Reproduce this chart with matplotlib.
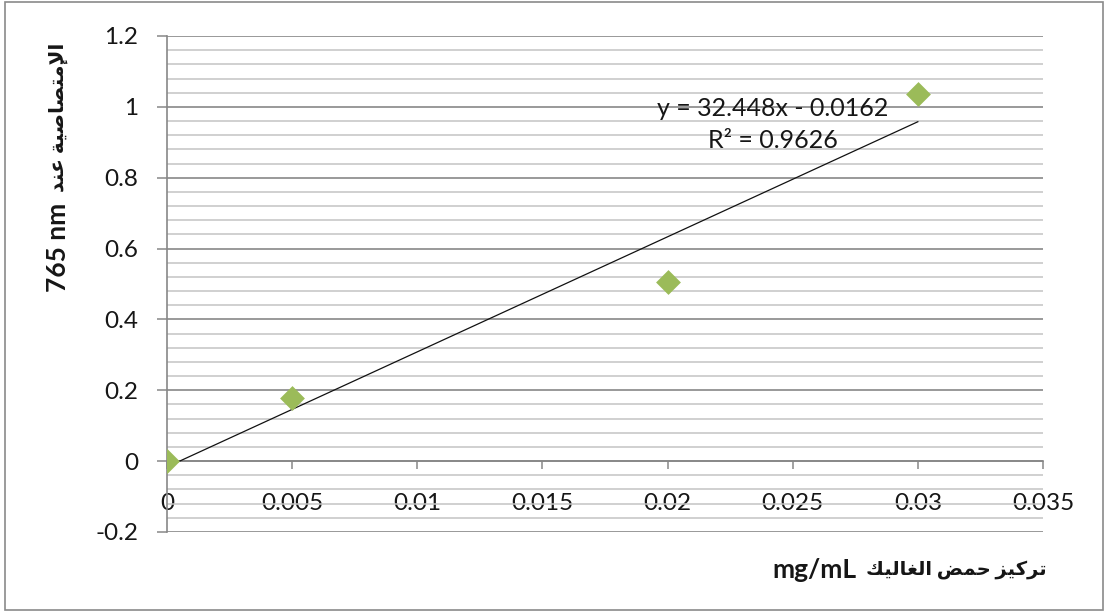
import numpy as np
import matplotlib
matplotlib.use("Agg")
import matplotlib.pyplot as plt
from matplotlib.patches import Rectangle
from matplotlib.ticker import MultipleLocator, FuncFormatter

# gallic acid calibration
conc = [0.0, 0.005, 0.02, 0.03]          # mg/mL
absorb = [0.0, 0.177, 0.507, 1.037]      # absorbance at 765 nm
eq_text = "y = 32.448x - 0.0162\nR² = 0.9626"

ylabel_ar = "الإمتصاصية عند"
ylabel_lat = "765 nm"
xlabel_ar = "تركيز حمض الغاليك"
xlabel_lat = "mg/mL"

# --- minimal arabic shaping (matplotlib has no bidi / joining) ---
AR_FORMS = {
    "ا": ("\uFE8D", "\uFE8E", None, None),
    "إ": ("\uFE87", "\uFE88", None, None),
    "ة": ("\uFE93", "\uFE94", None, None),
    "ت": ("\uFE95", "\uFE96", "\uFE97", "\uFE98"),
    "ح": ("\uFEA1", "\uFEA2", "\uFEA3", "\uFEA4"),
    "د": ("\uFEA9", "\uFEAA", None, None),
    "ر": ("\uFEAD", "\uFEAE", None, None),
    "ز": ("\uFEAF", "\uFEB0", None, None),
    "ص": ("\uFEB9", "\uFEBA", "\uFEBB", "\uFEBC"),
    "ض": ("\uFEBD", "\uFEBE", "\uFEBF", "\uFEC0"),
    "ع": ("\uFEC9", "\uFECA", "\uFECB", "\uFECC"),
    "غ": ("\uFECD", "\uFECE", "\uFECF", "\uFED0"),
    "ك": ("\uFED9", "\uFEDA", "\uFEDB", "\uFEDC"),
    "ل": ("\uFEDD", "\uFEDE", "\uFEDF", "\uFEE0"),
    "م": ("\uFEE1", "\uFEE2", "\uFEE3", "\uFEE4"),
    "ن": ("\uFEE5", "\uFEE6", "\uFEE7", "\uFEE8"),
    "ي": ("\uFEF1", "\uFEF2", "\uFEF3", "\uFEF4"),
}
LAM_ALEF = {"ا": ("\uFEFB", "\uFEFC"), "إ": ("\uFEF9", "\uFEFA")}


def dual(c):
    return c in AR_FORMS and AR_FORMS[c][2] is not None


def shape(text):
    out, i, n = [], 0, len(text)
    while i < n:
        c = text[i]
        jp = i > 0 and dual(text[i - 1])
        if c == "ل" and i + 1 < n and text[i + 1] in LAM_ALEF:
            iso, fin = LAM_ALEF[text[i + 1]]
            out.append(fin if jp else iso)
            i += 2
            continue
        if c not in AR_FORMS:
            out.append(c)
            i += 1
            continue
        iso, fin, ini, med = AR_FORMS[c]
        jn = ini is not None and i + 1 < n and text[i + 1] in AR_FORMS
        if jp and jn:
            out.append(med)
        elif jp:
            out.append(fin)
        elif jn:
            out.append(ini)
        else:
            out.append(iso)
        i += 1
    return "".join(reversed(out))   # visual (LTR) order


FAM = ["Lato", "DejaVu Sans"]
plt.rcParams["font.family"] = FAM

W, H = 1105, 614
fig = plt.figure(figsize=(W / 100, H / 100), dpi=100)
ax = fig.add_axes([167 / W, 1 - 532 / H, (1043 - 167) / W, (532 - 36) / H])

GRID_MAJ = "#878787"
GRID_MIN = "#c3c3c3"
TXT = "#161616"

ax.scatter(conc, absorb, marker="D", s=160, color="#9BBB59", zorder=4, linewidths=0)

slope, icpt = np.polyfit(conc, absorb, 1)
xs = np.array([min(conc), max(conc)])
ax.plot(xs, slope * xs + icpt, color="#111111", lw=0.9, zorder=3)

ax.set_xlim(0, 0.035)
ax.set_ylim(-0.2, 1.2)
ax.xaxis.set_major_locator(MultipleLocator(0.005))
ax.yaxis.set_major_locator(MultipleLocator(0.2))
ax.yaxis.set_minor_locator(MultipleLocator(0.04))
fmt = FuncFormatter(lambda v, p: f"{round(v, 6):g}")
ax.xaxis.set_major_formatter(fmt)
ax.yaxis.set_major_formatter(fmt)

ax.set_axisbelow(True)
ax.grid(axis="y", which="major", color=GRID_MAJ, lw=1.2)
ax.grid(axis="y", which="minor", color=GRID_MIN, lw=1.1)

for s in ("top", "right"):
    ax.spines[s].set_visible(False)
ax.spines["bottom"].set_position(("data", 0))
for s in ("left", "bottom"):
    ax.spines[s].set_color(GRID_MAJ)
    ax.spines[s].set_linewidth(1.2)

ax.tick_params(axis="y", which="major", direction="out", length=7.2, width=1.1,
               color=GRID_MAJ, pad=13.5, labelsize=17.5, labelcolor=TXT)
ax.tick_params(axis="y", which="minor", length=0)
ax.tick_params(axis="x", which="major", direction="out", length=6, width=1.1,
               color=GRID_MAJ, pad=17, labelsize=17.5, labelcolor=TXT)

ax.text(0.0242, 0.95, eq_text, ha="center", va="center", fontsize=18,
        color=TXT, linespacing=1.5, zorder=5)

# y label: latin part + arabic part (arabic glyphs come from DejaVu, which runs wide)
fig.text(58 / W, 1 - 292 / H, ylabel_lat, rotation=90, ha="center", va="bottom",
         fontsize=19, fontweight="bold", color=TXT)
fig.text(58 / W, 1 - 192 / H, shape(ylabel_ar), rotation=90, ha="center", va="bottom",
         fontsize=14.5, fontweight="bold", color=TXT, family=FAM)

# x label, right-aligned under the plot
fig.text(1047 / W, 1 - 570 / H, shape(xlabel_ar), ha="right", va="center",
         fontsize=14, fontweight="bold", color=TXT, family=FAM)
fig.text(857 / W, 1 - 570 / H, xlabel_lat, ha="right", va="center",
         fontsize=19, fontweight="bold", color=TXT)

fig.patches.append(Rectangle((5 / W, 1 - 610 / H), 1098 / W, 608 / H,
                             transform=fig.transFigure, fill=False,
                             edgecolor="#8a8a8a", lw=1.2))

fig.savefig("out.png", dpi=100)
